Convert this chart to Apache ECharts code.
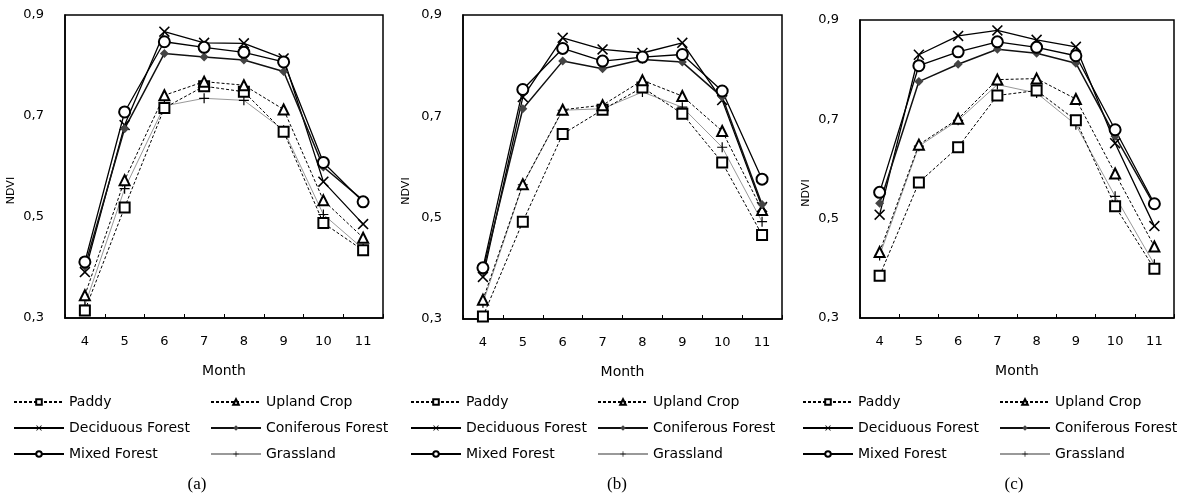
<!DOCTYPE html>
<html>
<head>
<meta charset="utf-8">
<script src="https://cdn.jsdelivr.net/npm/echarts@6/dist/echarts.min.js"></script>
<style>
  html, body { margin: 0; padding: 0; background: #fff; }
  #chart { width: 1187px; height: 495px; }
</style>
</head>
<body>
<div id="chart"></div>
<script>
// 月份
const months = ['4', '5', '6', '7', '8', '9', '10', '11']
const yTicks = [0.3, 0.5, 0.7, 0.9]

// (a)
const paddyA = [0.315, 0.519, 0.716, 0.759, 0.748, 0.669, 0.488, 0.434]
const uplandA = [0.345, 0.573, 0.741, 0.768, 0.761, 0.713, 0.533, 0.459]
const deciduousA = [0.391, 0.682, 0.867, 0.845, 0.844, 0.814, 0.57, 0.486]
const coniferousA = [0.402, 0.675, 0.824, 0.817, 0.811, 0.788, 0.599, 0.533]
const mixedA = [0.411, 0.708, 0.847, 0.836, 0.826, 0.807, 0.608, 0.53]
const grassA = [0.325, 0.556, 0.72, 0.735, 0.731, 0.672, 0.505, 0.437]

// (b)
const paddyB = [0.305, 0.492, 0.665, 0.713, 0.757, 0.705, 0.609, 0.466]
const uplandB = [0.338, 0.566, 0.713, 0.722, 0.771, 0.74, 0.671, 0.515]
const deciduousB = [0.383, 0.738, 0.855, 0.832, 0.825, 0.845, 0.732, 0.521]
const coniferousB = [0.395, 0.715, 0.809, 0.794, 0.812, 0.807, 0.738, 0.526]
const mixedB = [0.401, 0.753, 0.834, 0.809, 0.817, 0.822, 0.75, 0.576]
const grassB = [0.332, 0.565, 0.712, 0.715, 0.748, 0.718, 0.639, 0.492]

// (c)
const paddyC = [0.385, 0.573, 0.644, 0.748, 0.758, 0.698, 0.525, 0.399]
const uplandC = [0.433, 0.649, 0.701, 0.78, 0.782, 0.741, 0.591, 0.444]
const deciduousC = [0.508, 0.83, 0.868, 0.879, 0.86, 0.846, 0.652, 0.485]
const coniferousC = [0.531, 0.776, 0.811, 0.841, 0.833, 0.813, 0.666, 0.527]
const mixedC = [0.553, 0.808, 0.836, 0.856, 0.845, 0.828, 0.679, 0.53]
const grassC = [0.426, 0.646, 0.698, 0.77, 0.753, 0.689, 0.545, 0.408]

const panelData = [
  [paddyA, uplandA, deciduousA, coniferousA, mixedA, grassA],
  [paddyB, uplandB, deciduousB, coniferousB, mixedB, grassB],
  [paddyC, uplandC, deciduousC, coniferousC, mixedC, grassC]
]

const names = ['Paddy', 'Upland Crop', 'Deciduous Forest', 'Coniferous Forest', 'Mixed Forest', 'Grassland']
const captions = ['(a)', '(b)', '(c)']

// 标记形状
const xSymbol = 'path://M0,1L1,0L5,4L9,0L10,1L6,5L10,9L9,10L5,6L1,10L0,9L4,5Z'
const plusSymbol = 'path://M4.4,0h1.2v4.4h4.4v1.2h-4.4v4.4h-1.2v-4.4h-4.4v-1.2h4.4z'

const styles = [
  { symbol: 'emptyRect', symbolSize: 10, line: { color: '#000', width: 1, type: [3, 2] }, item: { color: '#000', borderColor: '#000' } },
  { symbol: 'emptyTriangle', symbolSize: 10, line: { color: '#000', width: 1, type: [3, 2] }, item: { color: '#000', borderColor: '#000' } },
  { symbol: xSymbol, symbolSize: 11, line: { color: '#000', width: 1.3 }, item: { color: '#000' } },
  { symbol: 'diamond', symbolSize: 9, line: { color: '#111', width: 1.5 }, item: { color: '#444' } },
  { symbol: 'emptyCircle', symbolSize: 11, line: { color: '#000', width: 1.3 }, item: { color: '#000', borderColor: '#000' } },
  { symbol: plusSymbol, symbolSize: 10, line: { color: '#999', width: 1 }, item: { color: '#000' } }
]

// 面板位置
const panels = [
  { left: 65, top: 15, width: 318, height: 303, gap: 48, leg1: 8, leg2: 205, cap: 192 },
  { left: 463, top: 15, width: 319, height: 304, gap: 51, leg1: 405, leg2: 592, cap: 612 },
  { left: 860, top: 20, width: 314, height: 298, gap: 48, leg1: 797, leg2: 994, cap: 1009 }
]

const font = 'DejaVu Sans'
const grid = [], xAxis = [], yAxis = [], series = [], legend = [], title = []

panels.forEach((p, i) => {
  grid.push({
    left: p.left, top: p.top, width: p.width, height: p.height,
    show: true, borderColor: '#000', borderWidth: 1.5, backgroundColor: 'transparent'
  })
  xAxis.push({
    gridIndex: i,
    type: 'category',
    data: months,
    boundaryGap: true,
    name: 'Month',
    nameLocation: 'middle',
    nameGap: 46,
    nameTextStyle: { color: '#000', fontFamily: font, fontSize: 14 },
    axisLine: { lineStyle: { color: '#000', width: 1.5 } },
    axisTick: { show: true, inside: true, length: 4, alignWithLabel: false, lineStyle: { color: '#000' } },
    axisLabel: { color: '#000', fontFamily: font, fontSize: 13, margin: 17 },
    splitLine: { show: false }
  })
  yAxis.push({
    gridIndex: i,
    type: 'value',
    min: yTicks[0],
    max: yTicks[yTicks.length - 1],
    interval: 0.2,
    name: 'NDVI',
    nameLocation: 'middle',
    nameGap: p.gap,
    nameTextStyle: { color: '#000', fontFamily: font, fontSize: 11, padding: [0, 48, 0, 0] },
    axisLine: { show: true, lineStyle: { color: '#000', width: 1.5 } },
    axisTick: { show: false },
    axisLabel: {
      color: '#000', fontFamily: font, fontSize: 13, margin: 21,
      formatter: v => v.toFixed(1).replace('.', ',')
    },
    splitLine: { show: false }
  })
  panelData[i].forEach((vals, k) => {
    const s = styles[k]
    series.push({
      name: names[k],
      type: 'line',
      xAxisIndex: i,
      yAxisIndex: i,
      data: vals,
      symbol: s.symbol,
      symbolSize: s.symbolSize,
      showAllSymbol: true,
      lineStyle: s.line,
      itemStyle: s.item,
      animation: false,
      z: k === 5 ? 1 : 2
    })
  })
  const legText = { color: '#000', fontFamily: font, fontSize: 14, lineHeight: 14 }
  legend.push({
    orient: 'vertical', left: p.leg1, top: 390,
    data: ['Paddy', 'Deciduous Forest', 'Mixed Forest'],
    itemWidth: 50, itemHeight: 7, itemGap: 12,
    textStyle: legText, selectedMode: false
  })
  legend.push({
    orient: 'vertical', left: p.leg2, top: 390,
    data: ['Upland Crop', 'Coniferous Forest', 'Grassland'],
    itemWidth: 50, itemHeight: 7, itemGap: 12,
    textStyle: legText, selectedMode: false
  })
  title.push({
    text: captions[i],
    left: p.cap,
    top: 471,
    textAlign: 'center',
    textStyle: { color: '#000', fontFamily: 'Liberation Serif', fontSize: 17, fontWeight: 'normal' }
  })
})

const myChart = echarts.init(document.getElementById('chart'))
myChart.setOption({
  backgroundColor: '#fff',
  animation: false,
  title,
  grid,
  xAxis,
  yAxis,
  legend,
  series
})
</script>
</body>
</html>
